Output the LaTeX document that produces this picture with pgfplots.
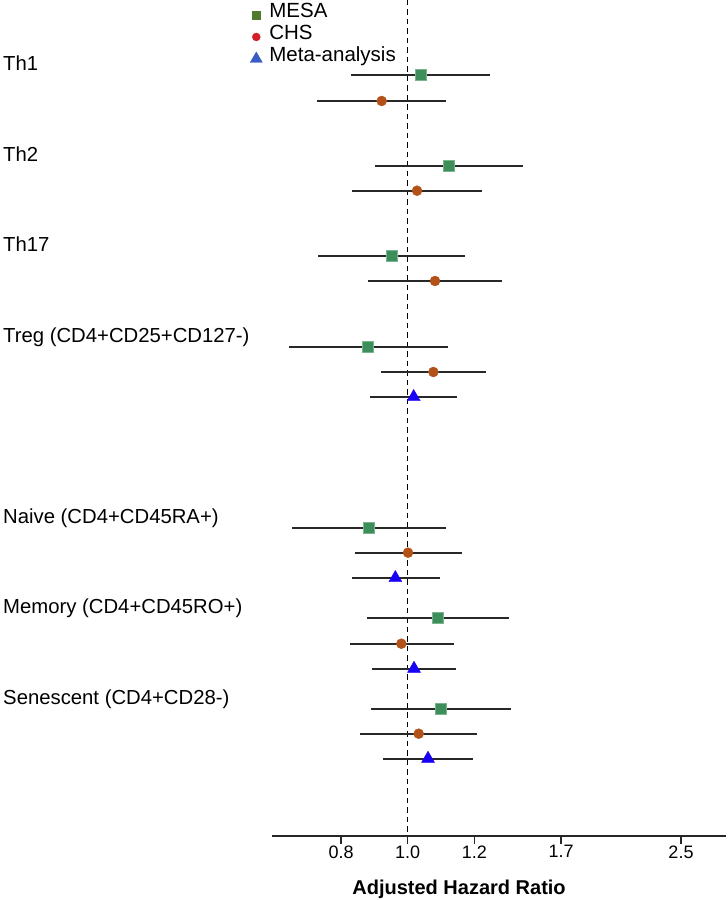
\documentclass[border=0pt]{standalone}
\usepackage{fontspec}
\setmainfont{Liberation Sans}
\usepackage{pgfplots}
\pgfplotsset{compat=1.18}
\usepackage{pgfplotstable}

\definecolor{mesafill}{RGB}{62,142,92}
\definecolor{mesaedge}{RGB}{120,180,140}
\definecolor{chsfill}{RGB}{178,82,24}
\definecolor{metafill}{RGB}{24,0,245}
\definecolor{cigray}{RGB}{40,40,40}
\definecolor{legmesa}{RGB}{80,122,44}
\definecolor{legchs}{RGB}{214,30,38}
\definecolor{legmeta}{RGB}{56,92,196}

% y = row position (from the axis line up), est / lo / hi = hazard ratio and CI
\pgfplotstableread{
y     est   lo    hi
760.7 1.039 0.830 1.247
670   1.123 0.901 1.345
580   0.953 0.731 1.172
489   0.880 0.644 1.120
308   0.884 0.652 1.115
217.7 1.091 0.879 1.303
127   1.099 0.891 1.309
}\mesa

\pgfplotstableread{
y     est   lo    hi
735   0.922 0.728 1.115
645.3 1.028 0.833 1.223
555   1.082 0.881 1.283
464   1.077 0.921 1.235
283.3 1.001 0.842 1.162
192.3 0.981 0.826 1.138
102.3 1.033 0.858 1.209
}\chs

\pgfplotstableread{
y     est   lo    hi
439   1.018 0.887 1.149
258   0.963 0.832 1.096
167.3 1.019 0.894 1.146
77.3  1.061 0.927 1.195
}\meta

\begin{document}
\begin{tikzpicture}
\useasboundingbox (0,0) rectangle (728pt,900pt);
\begin{axis}[
    at={(272pt,64pt)}, anchor=south west,
    scale only axis, width=454pt, height=836pt,
    xmin=0.5929, xmax=1.955,
    ymin=0, ymax=836,
    axis lines*=left,
    x axis line style={-, draw=black!85, line width=1.3pt},
    y axis line style={draw=none},
    xtick={0.8,1,1.2,1.46,1.82},
    xticklabels={0.8,1.0,1.2,1.7,2.5},
    ytick=\empty,
    xtick style={draw=none},
    xticklabel style={yshift=-6pt},
    tick label style={font=\fontsize{18}{20}\selectfont},
    /pgf/number format/assume math mode=true,
    xlabel={\textbf{Adjusted Hazard Ratio}},
    xlabel style={at={(axis description cs:0.412,0)}, anchor=base, yshift=-58pt,
                  font=\fontsize{20}{22}\selectfont},
    clip=false,
    legend cell align=left,
    legend image code/.code={\draw[#1] plot coordinates {(0pt,0pt)};},
    legend style={at={(axis description cs:-0.0484,0.9955)}, anchor=north west,
        draw=none, fill=none, inner sep=0pt,
        font=\fontsize{20.5}{22}\selectfont,
        nodes={inner sep=0pt, text height=14pt, text depth=8pt},
        row sep=0pt, column sep=7pt},
]
\addlegendimage{only marks, mark=square*, mark size=4pt, color=legmesa}
\addlegendentry{MESA}
\addlegendimage{only marks, mark=*, mark size=4pt, color=legchs}
\addlegendentry{CHS}
\addlegendimage{only marks, mark=triangle*, mark size=7pt, color=legmeta}
\addlegendentry{Meta-analysis}

% reference line at HR = 1
\addplot[forget plot, black, line width=1.5pt, dash pattern=on 5.5pt off 4pt]
    coordinates {(1,836) (1,0)};

% confidence intervals
\addplot[only marks, mark=none, forget plot,
    error bars/.cd, x dir=both, x explicit, error mark=none,
    error bar style={cigray, line width=1.7pt, solid}]
    table[x=est, y=y, x error plus expr=\thisrow{hi}-\thisrow{est},
          x error minus expr=\thisrow{est}-\thisrow{lo}] {\mesa};
\addplot[only marks, mark=none, forget plot,
    error bars/.cd, x dir=both, x explicit, error mark=none,
    error bar style={cigray, line width=1.7pt, solid}]
    table[x=est, y=y, x error plus expr=\thisrow{hi}-\thisrow{est},
          x error minus expr=\thisrow{est}-\thisrow{lo}] {\chs};
\addplot[only marks, mark=none, forget plot,
    error bars/.cd, x dir=both, x explicit, error mark=none,
    error bar style={cigray, line width=1.7pt, solid}]
    table[x=est, y=y, x error plus expr=\thisrow{hi}-\thisrow{est},
          x error minus expr=\thisrow{est}-\thisrow{lo}] {\meta};

% point estimates
\addplot[only marks, forget plot, mark=square*, mark size=5.5pt,
    mark options={fill=mesafill, draw=mesaedge, line width=0.8pt}]
    table[x=est, y=y] {\mesa};
\addplot[only marks, forget plot, mark=*, mark size=5pt,
    mark options={fill=chsfill, draw=chsfill}]
    table[x=est, y=y] {\chs};
\addplot[only marks, forget plot, mark=triangle*, mark size=7.5pt,
    mark options={fill=metafill, draw=metafill}]
    table[x=est, y=y] {\meta};

% tick marks, pointing down from the axis line
\pgfplotsinvokeforeach{0.8,1,1.2,1.46,1.82}{
    \draw[black!85, line width=1.4pt] (axis cs:#1,0) -- ++(0pt,-7.5pt);
}

% row labels
\begin{scope}[every node/.style={anchor=base west, inner sep=0pt,
        font=\fontsize{20.3}{22}\selectfont}]
\node at (axis cs:-0.2141,765.2) {Th1};
\node at (axis cs:-0.2141,674.5) {Th2};
\node at (axis cs:-0.2141,584.5) {Th17};
\node at (axis cs:-0.2141,493.5) {Treg (CD4+CD25+CD127-)};
\node at (axis cs:-0.2141,312.5) {Naive (CD4+CD45RA+)};
\node at (axis cs:-0.2141,222.2) {Memory (CD4+CD45RO+)};
\node at (axis cs:-0.2141,131.5) {Senescent (CD4+CD28-)};
\end{scope}
\end{axis}
\end{tikzpicture}
\end{document}
